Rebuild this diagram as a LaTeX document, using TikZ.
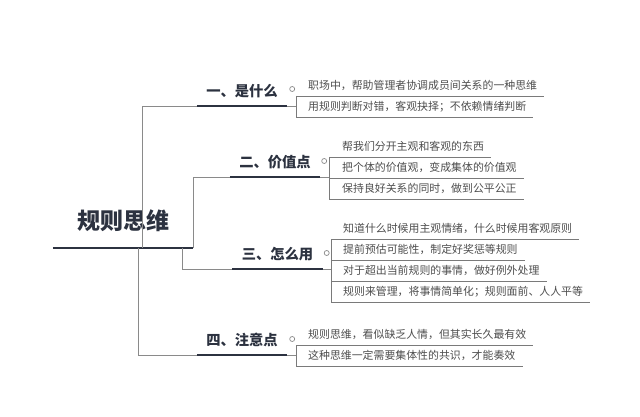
\documentclass[tikz,border=0pt]{standalone}
\usepackage{fontspec}
\setmainfont{Noto Sans CJK SC}
\newfontfamily\cjkbold{Noto Sans CJK SC}[FakeBold=0]
\usetikzlibrary{calc}
\definecolor{navy}{HTML}{2C3240}
\definecolor{conncol}{HTML}{8A8A8A}
\definecolor{leafcol}{HTML}{4E4E4E}
\definecolor{ulcol}{HTML}{7A7A7A}
\tikzset{
  rootbox/.style={anchor=south, minimum width=140pt, minimum height=54pt, inner sep=0pt,
    font=\fontsize{23pt}{26pt}\selectfont\bfseries, text=navy},
  branchbox/.style={anchor=south, minimum width=90pt, minimum height=30pt, inner sep=0pt,
    font=\fontsize{14.3pt}{16pt}\selectfont\bfseries, text=navy},
  leafbox/.style={anchor=south west, minimum height=20pt, inner sep=0pt,
    font=\fontsize{10.9pt}{12pt}\selectfont, text=leafcol},
  thickline/.style={draw=navy, line width=2.4pt},
  conn/.style={draw=conncol, line width=0.9pt},
  uline/.style={draw=ulcol, line width=0.9pt},
  knob/.style={draw=conncol, line width=0.7pt, fill=white, circle, inner sep=0pt, minimum size=5pt}
}
\begin{document}
\begin{tikzpicture}[x=1pt,y=-1pt]
\useasboundingbox[fill=white] (0,0) rectangle (640,417);

% root
\node[rootbox] (root) at (123,248) {规则思维};
\draw[thickline] (root.south west) -- (root.south east);

% branches
\node[branchbox] (b1) at (242,106) {一、是什么};
\node[branchbox] (b2) at (275,177) {二、价值点};
\node[branchbox] (b3) at (277.5,269) {三、怎么用};
\node[branchbox] (b4) at (242,355) {四、注意点};
\foreach \b in {b1,b2,b3,b4}{
  \draw[thickline] (\b.south west) -- (\b.south east);
}

% connectors root -> branches
\coordinate (r1) at (142,248);
\coordinate (r2) at (193,248);
\coordinate (r3) at (182,248);
\coordinate (r4) at (138,248);
\draw[conn] (r1) |- (b1.south west);
\draw[conn] (r2) |- (b2.south west);
\draw[conn] (r3) |- (b3.south west);
\draw[conn] (r4) |- (b4.south west);

% knobs
\node[knob] (k1) at ($(b1.south east)+(5,-17)$) {};
\node[knob] (k2) at ($(b2.south east)+(4,-16)$) {};
\node[knob] (k3) at ($(b3.south east)+(4,-16)$) {};
\node[knob] (k4) at ($(b4.south east)+(5,-16)$) {};

% bracket coordinates
\coordinate (br1) at (296,96);
\coordinate (br2) at (329,157);
\coordinate (br3) at (331,239);
\coordinate (br4) at (296,345);

% group 1
\node[leafbox] (l11) at (308,96) {职场中，帮助管理者协调成员间关系的一种思维};
\node[leafbox] (l12) at (308,117) {用规则判断对错，客观抉择；不依赖情绪判断};
% group 2
\node[leafbox] (l21) at (342,157) {帮我们分开主观和客观的东西};
\node[leafbox] (l22) at (342,178) {把个体的价值观，变成集体的价值观};
\node[leafbox] (l23) at (342,199) {保持良好关系的同时，做到公平公正};
% group 3
\node[leafbox] (l31) at (343,239) {知道什么时候用主观情绪，什么时候用客观原则};
\node[leafbox] (l32) at (343,260) {提前预估可能性，制定好奖惩等规则};
\node[leafbox] (l33) at (343,281) {对于超出当前规则的事情，做好例外处理};
\node[leafbox] (l34) at (343,302) {规则来管理，将事情简单化；规则面前、人人平等};
% group 4
\node[leafbox] (l41) at (308,345) {规则思维，看似缺乏人情，但其实长久最有效};
\node[leafbox] (l42) at (308,366) {这种思维一定需要集体性的共识，才能奏效};

% underlines
\foreach \l/\br in {l11/br1,l12/br1,l21/br2,l22/br2,l23/br2,l31/br3,l32/br3,l33/br3,l34/br3,l41/br4,l42/br4}{
  \draw[uline] (\l.south west -| \br) -- ([xshift=7pt]\l.south east);
}

% brackets
\draw[uline] (br1) -- (l12.south west -| br1);
\draw[uline] (br2) -- (l23.south west -| br2);
\draw[uline] (br3) -- (l34.south west -| br3);
\draw[uline] (br4) -- (l42.south west -| br4);

% ticks branch -> bracket
\draw[conn] (b1.south east) -- (b1.south east -| br1);
\draw[conn] (b2.south east) -- (b2.south east -| br2);
\draw[conn] (b3.south east) -- (b3.south east -| br3);
\draw[conn] (b4.south east) -- (b4.south east -| br4);
\end{tikzpicture}
\end{document}
